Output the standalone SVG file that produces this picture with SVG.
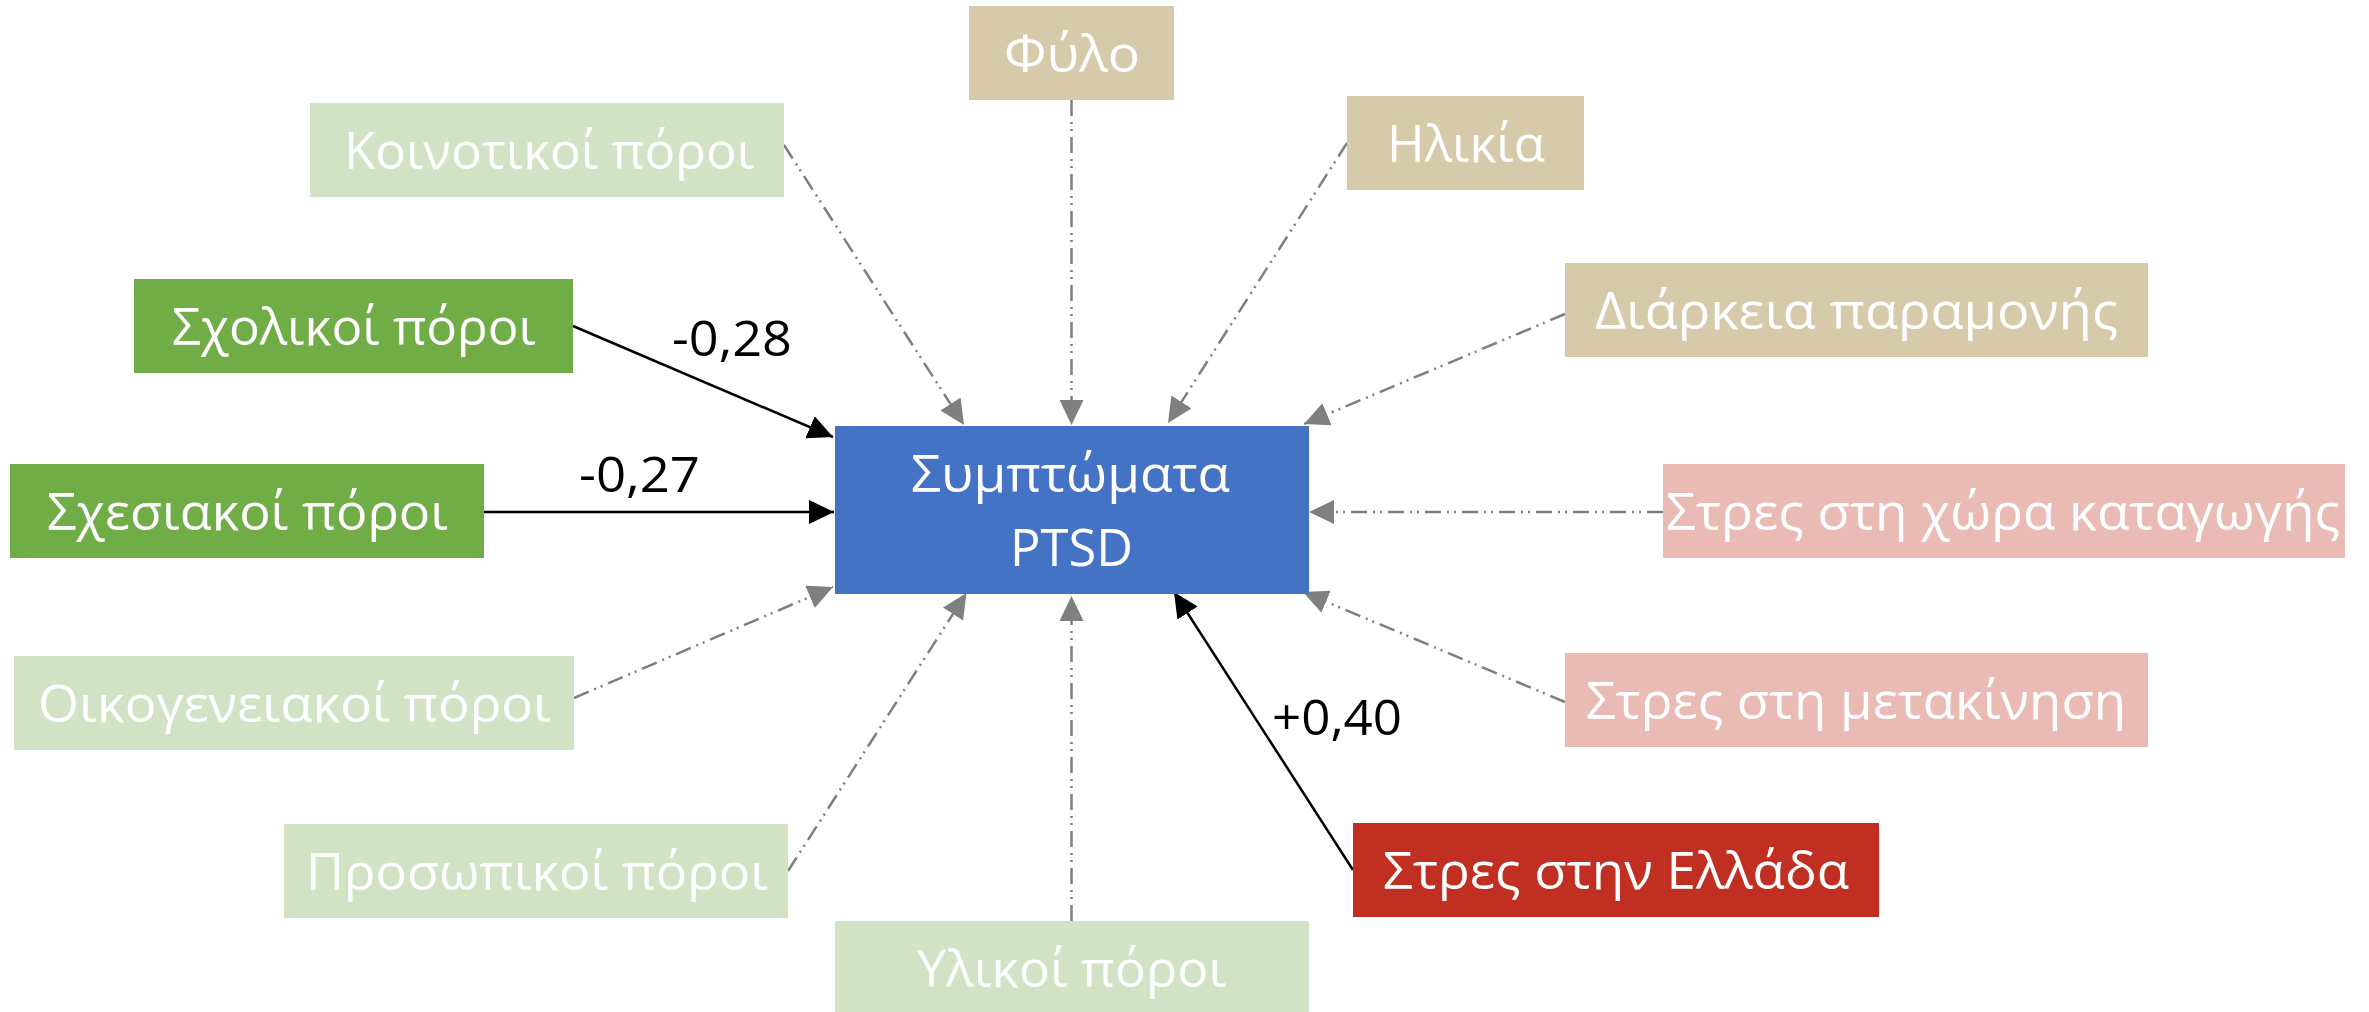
<svg xmlns="http://www.w3.org/2000/svg" width="2369" height="1012" viewBox="0 0 2369 1012">
<style>
.box{stroke:none}
.tan{fill:#D6CAAB}
.lg{fill:#D1E2C5}
.gr{fill:#70AD47}
.bl{fill:#4472C4}
.pk{fill:#EABBB5}
.rd{fill:#C12F22}
.t{font-family:"Open Sans","Noto Sans","Liberation Sans",sans-serif;font-size:52px;fill:#FFFFFF;text-anchor:middle}
.n{font-family:"Open Sans","Noto Sans","Liberation Sans",sans-serif;font-size:50px;fill:#000000}
.dash{stroke:#7F7F7F;stroke-width:2.5;fill:none;stroke-dasharray:16 6 2 5 2 6;marker-end:url(#ag)}
.solid{stroke:#000000;stroke-width:2.5;fill:none;marker-end:url(#ab)}
</style>
<defs>
<marker id="ag" viewBox="0 0 25 24" refX="25" refY="12" markerWidth="25" markerHeight="24" markerUnits="userSpaceOnUse" orient="auto"><path d="M0,0 L25,12 L0,24 z" fill="#7F7F7F"/></marker>
<marker id="ab" viewBox="0 0 25 24" refX="25" refY="12" markerWidth="25" markerHeight="24" markerUnits="userSpaceOnUse" orient="auto"><path d="M0,0 L25,12 L0,24 z" fill="#000000"/></marker>
</defs>
<rect width="2369" height="1012" fill="#FFFFFF"/>
<g id="connectors">
<line class="dash" x1="784" y1="145" x2="964" y2="425"/>
<line class="dash" x1="1071.5" y1="100" x2="1071.5" y2="425"/>
<line class="dash" x1="1347" y1="143" x2="1168" y2="423"/>
<line class="dash" x1="1565" y1="314" x2="1304" y2="424"/>
<line class="dash" x1="1663" y1="512" x2="1309" y2="512"/>
<line class="dash" x1="1565" y1="702" x2="1303" y2="592"/>
<line class="solid" x1="1353" y1="870" x2="1174" y2="592"/>
<line class="dash" x1="1071.5" y1="921" x2="1071.5" y2="596"/>
<line class="dash" x1="788" y1="871" x2="966.5" y2="593"/>
<line class="dash" x1="574" y1="698" x2="833" y2="587"/>
<line class="solid" x1="484" y1="512" x2="834" y2="512"/>
<line class="solid" x1="573" y1="326" x2="833" y2="437"/>
<text class="n" x="672" y="356" textLength="120" lengthAdjust="spacingAndGlyphs">-0,28</text>
<text class="n" x="579" y="492" textLength="121" lengthAdjust="spacingAndGlyphs">-0,27</text>
<text class="n" x="1272" y="735" textLength="130" lengthAdjust="spacingAndGlyphs">+0,40</text>
</g>
<g id="center">
<rect class="box bl" x="835" y="426" width="474" height="168"/>
<text class="t" x="1070.5" y="492" textLength="319" lengthAdjust="spacingAndGlyphs">Συμπτώματα</text>
<text class="t" x="1071.5" y="566" textLength="123" lengthAdjust="spacingAndGlyphs">PTSD</text>
</g>
<g id="fylo">
<rect class="box tan" x="969" y="6" width="205" height="94"/>
<text class="t" x="1072" y="72" textLength="136" lengthAdjust="spacingAndGlyphs">Φύλο</text>
</g>
<g id="koinotikoi">
<rect class="box lg" x="310" y="103" width="474" height="94"/>
<text class="t" x="549" y="169" textLength="410" lengthAdjust="spacingAndGlyphs">Κοινοτικοί πόροι</text>
</g>
<g id="sxolikoi">
<rect class="box gr" x="134" y="279" width="439" height="94"/>
<text class="t" x="354" y="345" textLength="364" lengthAdjust="spacingAndGlyphs">Σχολικοί πόροι</text>
</g>
<g id="sxesiakoi">
<rect class="box gr" x="10" y="464" width="474" height="94"/>
<text class="t" x="247.5" y="530" textLength="401" lengthAdjust="spacingAndGlyphs">Σχεσιακοί πόροι</text>
</g>
<g id="oikogeneiakoi">
<rect class="box lg" x="14" y="656" width="560" height="94"/>
<text class="t" x="294.5" y="722" textLength="513" lengthAdjust="spacingAndGlyphs">Οικογενειακοί πόροι</text>
</g>
<g id="prosopikoi">
<rect class="box lg" x="284" y="824" width="504" height="94"/>
<text class="t" x="537" y="890" textLength="462" lengthAdjust="spacingAndGlyphs">Προσωπικοί πόροι</text>
</g>
<g id="ylikoi">
<rect class="box lg" x="835" y="921" width="474" height="94"/>
<text class="t" x="1071.5" y="987" textLength="309" lengthAdjust="spacingAndGlyphs">Υλικοί πόροι</text>
</g>
<g id="ilikia">
<rect class="box tan" x="1347" y="96" width="237" height="94"/>
<text class="t" x="1466" y="162" textLength="158" lengthAdjust="spacingAndGlyphs">Ηλικία</text>
</g>
<g id="diarkeia">
<rect class="box tan" x="1565" y="263" width="583" height="94"/>
<text class="t" x="1856.5" y="329" textLength="523" lengthAdjust="spacingAndGlyphs">Διάρκεια παραμονής</text>
</g>
<g id="stres-xora">
<rect class="box pk" x="1663" y="464" width="682" height="94"/>
<text class="t" x="2003" y="530" textLength="674" lengthAdjust="spacingAndGlyphs">Στρες στη χώρα καταγωγής</text>
</g>
<g id="stres-metakinisi">
<rect class="box pk" x="1565" y="653" width="583" height="94"/>
<text class="t" x="1856" y="719" textLength="540" lengthAdjust="spacingAndGlyphs">Στρες στη μετακίνηση</text>
</g>
<g id="stres-ellada">
<rect class="box rd" x="1353" y="823" width="526" height="94"/>
<text class="t" x="1616" y="889" textLength="466" lengthAdjust="spacingAndGlyphs">Στρες στην Ελλάδα</text>
</g>
</svg>
